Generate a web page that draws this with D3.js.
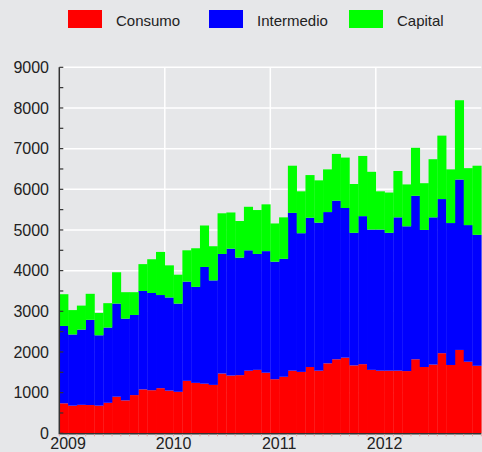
<!DOCTYPE html>
<html><head><meta charset="utf-8">
<script src="https://cdn.jsdelivr.net/npm/d3@7"></script>
<style>html,body{margin:0;padding:0;background:#e6e7e9;}svg{display:block;font-family:"Liberation Sans",Arial,sans-serif;}</style>
</head><body><svg id="c" width="482" height="452"></svg>
<script>
const series = ["Consumo", "Intermedio", "Capital"];
const colors = ["#ff0000", "#0000ff", "#00ff00"];
const years = ["2009", "2010", "2011", "2012"];
const yTicks = [0, 1000, 2000, 3000, 4000, 5000, 6000, 7000, 8000, 9000];
const consumo = [737,680,700,695,680,750,900,810,940,1080,1060,1110,
  1050,1020,1290,1240,1220,1190,1470,1420,1430,1540,1560,1490,
  1330,1390,1540,1510,1630,1540,1720,1820,1860,1670,1700,1560,
  1540,1540,1540,1530,1820,1630,1690,1970,1680,2050,1760,1660];
const intermedio = [1903,1750,1850,2095,1730,1850,2290,2010,1970,2420,2390,2290,
  2290,2170,2440,2360,2870,2570,2940,3120,2890,2960,2850,2990,
  2890,2900,3880,3410,3670,3640,3720,3900,3680,3260,3640,3450,
  3470,3390,3770,3560,4020,3370,3620,3790,3490,4190,3360,3220];
const capital = [780,600,590,640,550,600,770,650,560,660,830,1060,
  790,710,770,950,1020,840,1000,890,900,1070,1080,1150,
  940,1020,1160,1030,1050,1040,1050,1150,1240,1200,1480,1420,
  940,990,1140,1030,1180,1150,1430,1560,1320,1950,1400,1700];

const svg = d3.select("#c");
const x0 = 59.3, x1 = 481.3, yB = 433.3, yT = 67.3;
const n = consumo.length;
const x = d3.scaleLinear().domain([0, n]).range([x0, x1]);
const y = d3.scaleLinear().domain([0, 9000]).range([yB, yT]);

const rows = consumo.map((c, i) => ({i, Consumo: c, Intermedio: intermedio[i], Capital: capital[i]}));
const stack = d3.stack().keys(series)(rows);

// gridlines
const g = svg.append("g");
g.selectAll("line.h").data(yTicks.slice(1)).join("line")
  .attr("x1", x0).attr("x2", x1).attr("y1", d => y(d)).attr("y2", d => y(d))
  .attr("stroke", "#ffffff").attr("stroke-width", 1.5);
g.selectAll("line.v").data(years.map((d, k) => k * 12).slice(1)).join("line")
  .attr("x1", d => x(d)).attr("x2", d => x(d)).attr("y1", yT).attr("y2", yB)
  .attr("stroke", "#ffffff").attr("stroke-width", 1.5);

// bars
stack.forEach((s, k) => {
  svg.append("g").selectAll("rect").data(s).join("rect")
    .attr("x", d => x(d.data.i))
    .attr("width", d => x(d.data.i + 1) - x(d.data.i) + 0.3)
    .attr("y", d => y(d[1]))
    .attr("height", d => y(d[0]) - y(d[1]))
    .attr("fill", colors[k]);
});

// y axis
const yMinor = d3.range(0, 9001, 500);
svg.append("line").attr("x1", x0).attr("x2", x0).attr("y1", yT).attr("y2", yB + 1)
  .attr("stroke", "#333").attr("stroke-width", 1.5);
svg.append("g").selectAll("line").data(yMinor).join("line")
  .attr("x1", x0).attr("x2", x0 + 4).attr("y1", d => y(d)).attr("y2", d => y(d))
  .attr("stroke", "#333").attr("stroke-width", 1.2);
svg.append("g").selectAll("text").data(yTicks).join("text")
  .attr("x", 49).attr("y", d => y(d)).attr("dy", "0.35em")
  .attr("text-anchor", "end").attr("font-size", 16).attr("fill", "#222")
  .text(d => d);

// x axis
svg.append("line").attr("x1", x0).attr("x2", x1).attr("y1", yB + 0.5).attr("y2", yB + 0.5)
  .attr("stroke", "#333").attr("stroke-width", 1.5);
svg.append("g").selectAll("line").data(d3.range(0, n + 1)).join("line")
  .attr("x1", d => x(d)).attr("x2", d => x(d)).attr("y1", yB + 1).attr("y2", yB + 3)
  .attr("stroke", "#e8a0a0").attr("stroke-width", 1);
svg.append("g").selectAll("text").data(years).join("text")
  .attr("x", (d, k) => x(k * 12 + 1)).attr("y", 449)
  .attr("text-anchor", "middle").attr("font-size", 16).attr("fill", "#222")
  .text(d => d);

// legend
const lx = [68, 209, 349];
const lg = svg.append("g").selectAll("g").data(series).join("g");
lg.append("rect").attr("x", (d, k) => lx[k]).attr("y", 10).attr("width", 34).attr("height", 18)
  .attr("fill", (d, k) => colors[k]);
lg.append("text").attr("x", (d, k) => lx[k] + 48).attr("y", 25.5)
  .attr("font-size", 15).attr("fill", "#222").text(d => d);
</script></body></html>
